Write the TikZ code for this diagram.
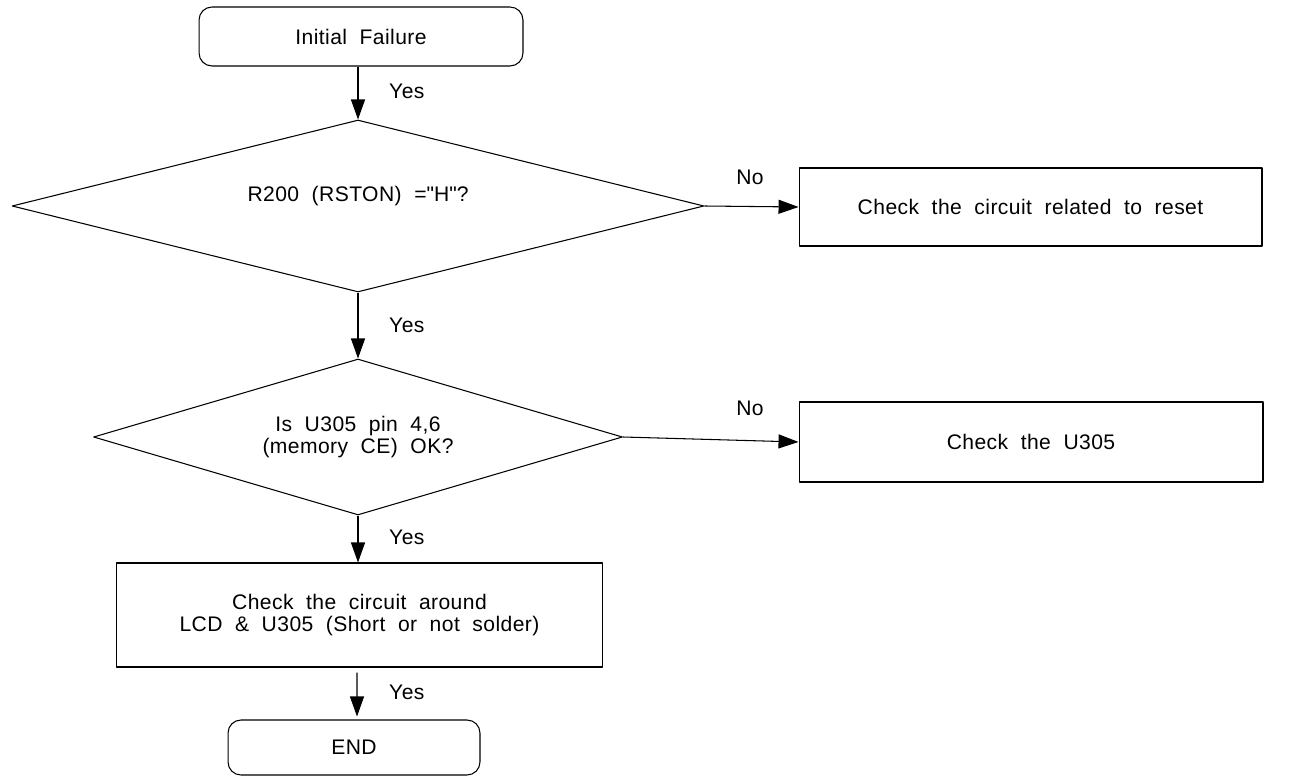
\documentclass[tikz,border=0pt]{standalone}
\usepackage{fontspec}
\setmainfont{Liberation Sans}[LetterSpace=2,WordSpace=2]
\usetikzlibrary{shapes.geometric,arrows.meta}
\begin{document}
\begin{tikzpicture}[x=0.02cm, y=-0.02cm, font=\fontsize{12}{12.5}\selectfont, line join=round,
	>={Triangle[length=0.4cm,width=0.28cm]},
	term/.style={draw, rounded corners=0.26cm, line width=0.6pt},
	box/.style={draw, line width=0.6pt, align=center},
	test/.style={draw, diamond, inner sep=0pt, line width=0.6pt, align=center},
	flow/.style={->, line width=0.6pt}]
	\useasboundingbox (0,0) rectangle (1293,776);
	% blocks
	\node[term, minimum width=6.48cm, minimum height=1.18cm] (start) at (361,36.5) {Initial Failure};
	\node[test, aspect=4.02, text height=0.35cm, text depth=0.53cm, minimum width=13.84cm, minimum height=3.44cm] (rst) at (358,206) {R200 (RSTON) =\textquotedbl H\textquotedbl ?};
	\node[box, minimum width=9.26cm, minimum height=1.56cm] (chkrst) at (1030.5,207) {Check the circuit related to reset};
	\node[test, aspect=3.39, minimum width=10.58cm, minimum height=3.12cm] (ce) at (358,437) {Is U305 pin 4,6\\(memory CE) OK?};
	\node[box, minimum width=9.28cm, minimum height=1.6cm] (chku) at (1031,442) {Check the U305};
	\node[box, minimum width=9.74cm, minimum height=2.08cm] (chklcd) at (359.5,615) {Check the circuit around\\LCD \& U305 (Short or not solder)};
	\node[term, minimum width=5.04cm, minimum height=1.1cm] (fin) at (354,747.5) {END};
	% labels
	\node[anchor=west] (y1) at (383,91) {Yes};
	\node[anchor=west] (y2) at (383,325) {Yes};
	\node[anchor=west] (y3) at (383,537) {Yes};
	\node[anchor=west] (y4) at (383,692) {Yes};
	\node (n1) at (750,177) {No};
	\node (n2) at (750,408) {No};
	% connectors
	\draw[flow] (start.south -| rst.north) -- (rst.north);
	\draw[flow] (rst.east) -- (chkrst.west);
	\draw[flow] (rst.south) -- (ce.north);
	\draw[flow] (ce.east) -- (chku.west);
	\draw[flow] (ce.south) -- (ce.south |- chklcd.north);
	\draw[flow, shorten <=0.1cm, shorten >=0.06cm] (chklcd.south -| fin.north) ++(3,0) -- ([xshift=0.06cm]fin.north);
\end{tikzpicture}
\end{document}
